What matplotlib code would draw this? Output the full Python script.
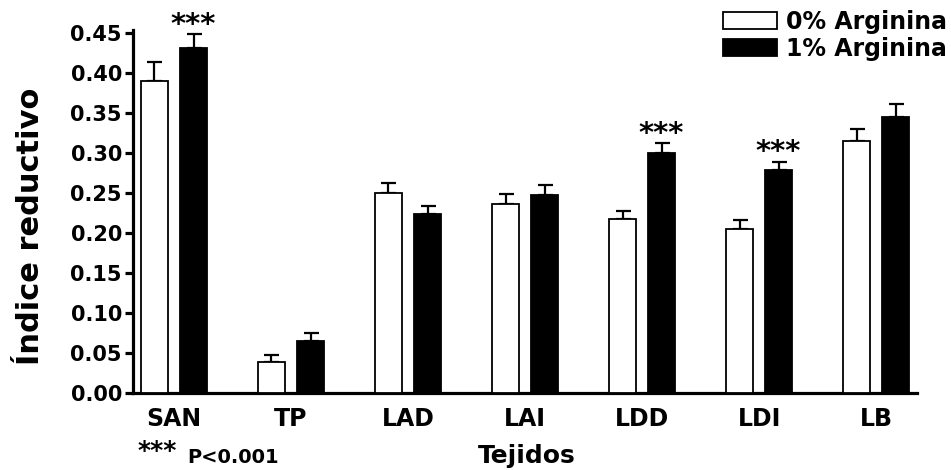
import numpy as np
import matplotlib.pyplot as plt

# tissues and reductive index values
tejidos = ['SAN', 'TP', 'LAD', 'LAI', 'LDD', 'LDI', 'LB']
arg0 = [0.389, 0.039, 0.250, 0.236, 0.217, 0.205, 0.315]
arg0_err = [0.024, 0.008, 0.012, 0.012, 0.010, 0.011, 0.014]
arg1 = [0.431, 0.065, 0.224, 0.247, 0.300, 0.279, 0.345]
arg1_err = [0.017, 0.010, 0.010, 0.013, 0.012, 0.010, 0.016]
signif = [True, False, False, False, True, True, False]

plt.rcParams['font.family'] = 'DejaVu Sans'
plt.rcParams['font.weight'] = 'bold'

fig = plt.figure(figsize=(9.51, 4.70), dpi=100)
ax = fig.add_axes([0.1399, 0.1638, 0.8244, 0.772])

x = np.arange(len(tejidos))
w = 0.226
off = 0.167

ax.bar(x - off, arg0, w, color='white', edgecolor='black', linewidth=1.3,
       label='0% Arginina', zorder=3)
ax.bar(x + off, arg1, w, color='black', edgecolor='black', linewidth=1.3,
       label='1% Arginina', zorder=3)
ax.errorbar(x - off, arg0, yerr=[np.zeros(len(x)), arg0_err], fmt='none',
            ecolor='black', elinewidth=1.6, capsize=5.4, capthick=1.6, zorder=2)
ax.errorbar(x + off, arg1, yerr=[np.zeros(len(x)), arg1_err], fmt='none',
            ecolor='black', elinewidth=1.6, capsize=5.4, capthick=1.6, zorder=2)

# significance stars
for i in range(len(x)):
    if signif[i]:
        ax.annotate('***', xy=(x[i] + off, arg1[i] + arg1_err[i]),
                    xytext=(0, 1), textcoords='offset points',
                    ha='center', va='baseline', fontsize=21, fontweight='bold')

ax.set_xlim(-0.35, 6.35)
ax.set_ylim(0, 0.453)
ax.set_yticks(np.arange(0, 0.46, 0.05))
ax.set_yticklabels(['%.2f' % v for v in np.arange(0, 0.46, 0.05)])
ax.set_xticks(x)
ax.set_xticklabels(tejidos)

for s in ['top', 'right']:
    ax.spines[s].set_visible(False)
for s in ['left', 'bottom']:
    ax.spines[s].set_linewidth(2.3)
ax.tick_params(axis='y', length=6, width=2.3, pad=2, labelsize=15)
ax.tick_params(axis='x', length=0, pad=10, labelsize=17)

ax.set_ylabel('Índice reductivo', fontsize=22, fontweight='bold')
ax.yaxis.set_label_coords(-0.112, 0.46)
fig.text(0.554, 0.015, 'Tejidos', ha='center', va='baseline', fontsize=18,
         fontweight='bold')
fig.text(0.145, 0.025, '***', ha='left', va='baseline', fontsize=18,
         fontweight='bold')
fig.text(0.197, 0.015, 'P<0.001', ha='left', va='baseline', fontsize=14,
         fontweight='bold')

ax.legend(loc='upper left', bbox_to_anchor=(723 / 951, 1 - 10 / 470),
          bbox_transform=fig.transFigure, frameon=False, borderpad=0,
          borderaxespad=0, handlelength=2.3, handleheight=0.7,
          handletextpad=0.35, labelspacing=0.12, prop={'size': 17, 'weight': 'bold'})

plt.savefig('out.png', dpi=100)
